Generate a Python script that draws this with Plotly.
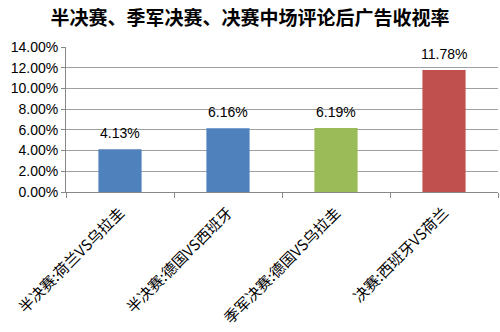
import plotly.graph_objects as go

categories = ["半决赛:荷兰VS乌拉圭", "半决赛:德国VS西班牙", "季军决赛:德国VS乌拉圭", "决赛:西班牙VS荷兰"]
values = [4.13, 6.16, 6.19, 11.78]
bar_colors = ["#4F81BD", "#4F81BD", "#9BBB59", "#C0504D"]
tick_vals = [0, 2, 4, 6, 8, 10, 12, 14]
tick_text = ["0.00%", "2.00%", "4.00%", "6.00%", "8.00%", "10.00%", "12.00%", "14.00%"]
title = "半决赛、季军决赛、决赛中场评论后广告收视率"

fig = go.Figure(go.Bar(
    x=categories, y=values,
    marker=dict(color=bar_colors, line=dict(width=0)),
    width=0.4,
))

for c, v in zip(categories, values):
    fig.add_annotation(x=c, y=v, text=f"{v:.2f}%", showarrow=False,
                       yanchor="middle", yshift=16,
                       font=dict(family="Liberation Sans, Arial", size=14, color="#000"))

fig.update_layout(
    width=500, height=332,
    margin=dict(l=66, r=2, t=47, b=140),
    paper_bgcolor="white", plot_bgcolor="white",
    showlegend=False,
    title=dict(text=title, x=0.5, xanchor="center", y=0.945, yanchor="middle",
               font=dict(family="Noto Sans CJK SC", size=19, color="#000", weight="bold")),
    xaxis=dict(
        tickangle=-45, tickson="boundaries", ticks="outside", ticklen=5, tickcolor="#888",
        ticklabelstandoff=5,
        showline=True, linecolor="#888", linewidth=1, showgrid=False,
        tickfont=dict(family="Noto Sans CJK SC", size=15, color="#000"),
    ),
    yaxis=dict(
        range=[0, 14], tickvals=tick_vals, ticktext=tick_text,
        ticks="outside", ticklen=4, tickcolor="#888",
        showline=True, linecolor="#888", linewidth=1,
        showgrid=True, gridcolor="#a0a0a0", gridwidth=1, zeroline=False,
        tickfont=dict(family="Liberation Sans, Arial", size=14, color="#000"),
    ),
)

fig.write_html("out.html")
